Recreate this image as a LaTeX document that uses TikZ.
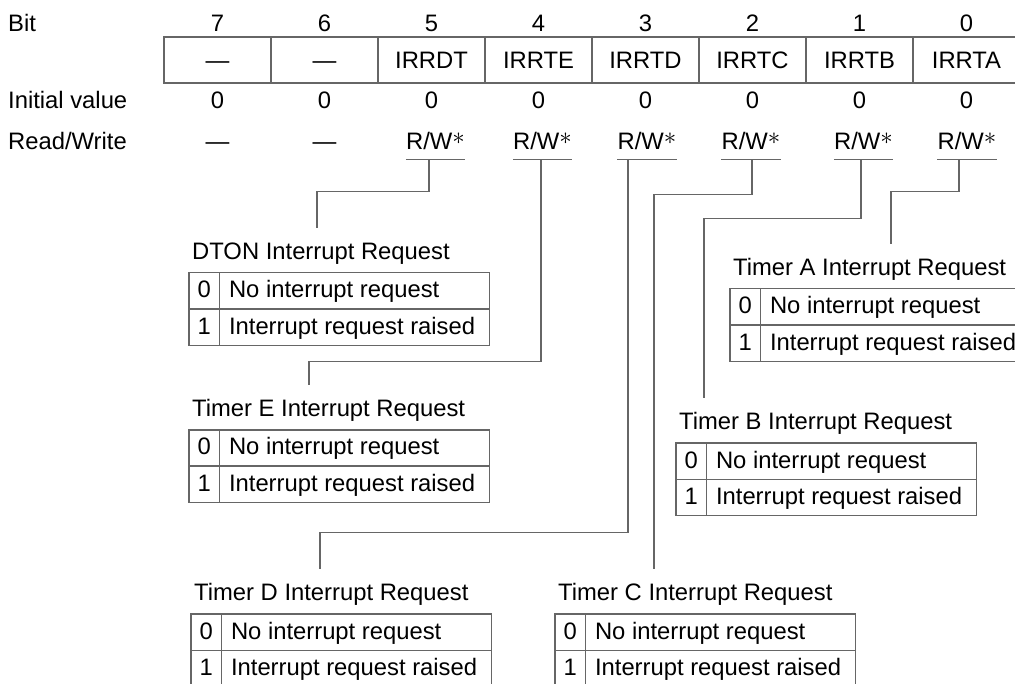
\documentclass[tikz,border=0pt]{standalone}
\usepackage{fontspec}
\setmainfont{Liberation Sans}
\usepackage{colortbl}
\usetikzlibrary{positioning, calc}

\newcommand{\reqtable}{%
  \renewcommand{\arraystretch}{1.25}%
  \setlength{\tabcolsep}{8pt}%
  \setlength{\arrayrulewidth}{1.3pt}%
  \arrayrulecolor{black!60}%
  \begin{tabular}{|c|@{\hspace{9pt}}l@{\hspace{14pt}}|}
    \hline
    0 & No interrupt request \\ \hline
    1 & Interrupt request raised \\ \hline
  \end{tabular}}

\begin{document}
\begin{tikzpicture}[x=1pt, y=-1pt, font=\fontsize{23.8}{28}\selectfont,
  wire/.style={draw=black!60, line width=1.3pt},
  cell/.style={draw=black!60, line width=1.3pt, minimum width=107pt, minimum height=46pt,
    inner sep=0pt, text height=17pt, text depth=0pt},
  lbl/.style={anchor=base west, inner sep=0pt},
  val/.style={anchor=base, inner sep=0pt},
  rw/.style={anchor=base, inner xsep=0pt, inner ysep=9pt, text depth=0pt},
  tab/.style={anchor=north west, inner sep=0pt},
  ttl/.style={anchor=base west, inner xsep=0pt, inner ysep=14pt, text height=17pt, text depth=5pt}]

\useasboundingbox (0, 0) rectangle (1015, 684);

% row labels
\node[lbl] (bit) at (8, 32) {Bit};
\node[lbl] (init) at (8, 109) {Initial value};
\node[lbl] (rdwr) at (8, 150) {Read/Write};

% bit numbers
\node[val] (n7) at (217.5, 32) {7};
\node[val] (n6) at (324.5, 32) {6};
\node[val] (n5) at (431.5, 32) {5};
\node[val] (n4) at (538.5, 32) {4};
\node[val] (n3) at (645.5, 32) {3};
\node[val] (n2) at (752.5, 32) {2};
\node[val] (n1) at (859.5, 32) {1};
\node[val] (n0) at (966.5, 32) {0};

% register cells
\node[cell] (c7) at (217.5, 60) {—};
\node[cell] (c6) at (324.5, 60) {—};
\node[cell] (c5) at (431.5, 60) {IRRDT};
\node[cell] (c4) at (538.5, 60) {IRRTE};
\node[cell] (c3) at (645.5, 60) {IRRTD};
\node[cell] (c2) at (752.5, 60) {IRRTC};
\node[cell] (c1) at (859.5, 60) {IRRTB};
\node[cell] (c0) at (966.5, 60) {IRRTA};

% initial values
\node[val] (i7) at (217.5, 109) {0};
\node[val] (i6) at (324.5, 109) {0};
\node[val] (i5) at (431.5, 109) {0};
\node[val] (i4) at (538.5, 109) {0};
\node[val] (i3) at (645.5, 109) {0};
\node[val] (i2) at (752.5, 109) {0};
\node[val] (i1) at (859.5, 109) {0};
\node[val] (i0) at (966.5, 109) {0};

% read/write
\node[val] (r7) at (217.5, 150) {—};
\node[val] (r6) at (324.5, 150) {—};
\node[rw] (r5) at (435.5, 150) {R/W\raisebox{5pt}{$\ast$}};
\node[rw] (r4) at (542.5, 150) {R/W\raisebox{5pt}{$\ast$}};
\node[rw] (r3) at (647, 150) {R/W\raisebox{5pt}{$\ast$}};
\node[rw] (r2) at (751, 150) {R/W\raisebox{5pt}{$\ast$}};
\node[rw] (r1) at (863.5, 150) {R/W\raisebox{5pt}{$\ast$}};
\node[rw] (r0) at (967, 150) {R/W\raisebox{5pt}{$\ast$}};

\draw[wire] (r5.south west) -- (r5.south east);
\draw[wire] (r4.south west) -- (r4.south east);
\draw[wire] (r3.south west) -- (r3.south east);
\draw[wire] (r2.south west) -- (r2.south east);
\draw[wire] (r1.south west) -- (r1.south east);
\draw[wire] (r0.south west) -- (r0.south east);

% request tables
\node[tab] (tabdt) at (188, 272) {\reqtable};
\node[ttl] (ttldt) at ([xshift=4pt, yshift=12.5pt]tabdt.north west) {DTON Interrupt Request};
\node[tab] (tabte) at (188, 429) {\reqtable};
\node[ttl] (ttlte) at ([xshift=4pt, yshift=12.5pt]tabte.north west) {Timer E Interrupt Request};
\node[tab] (tabtd) at (190, 613) {\reqtable};
\node[ttl] (ttltd) at ([xshift=4pt, yshift=12.5pt]tabtd.north west) {Timer D Interrupt Request};
\node[tab] (tabtc) at (554, 613) {\reqtable};
\node[ttl] (ttltc) at ([xshift=4pt, yshift=12.5pt]tabtc.north west) {Timer C Interrupt Request};
\node[tab] (tabtb) at (675, 442) {\reqtable};
\node[ttl] (ttltb) at ([xshift=4pt, yshift=12.5pt]tabtb.north west) {Timer B Interrupt Request};
\node[tab] (tabta) at (729, 288) {\reqtable};
\node[ttl] (ttlta) at ([xshift=4pt, yshift=12.5pt]tabta.north west) {Timer A Interrupt Request};

% bit to table
\draw[wire] ([xshift=-6.5pt]r5.south) -- ++(0, 32) -| ([xshift=125pt]ttldt.north west);
\draw[wire] ([xshift=-1.5pt]r4.south) -- ++(0, 202) -| ([xshift=117pt]ttlte.north west);
\draw[wire] ([xshift=-19pt]r3.south) -- ++(0, 373) -| ([xshift=126pt]ttltd.north west);
\draw[wire] ([xshift=1pt]r2.south) -- ++(0, 35) -| ([xshift=96pt]ttltc.north west);
\draw[wire] ([xshift=-2.5pt]r1.south) -- ++(0, 59) -| ([xshift=25pt]ttltb.north west);
\draw[wire] ([xshift=-8pt]r0.south) -- ++(0, 32) -| ([xshift=158pt]ttlta.north west);

\end{tikzpicture}
\end{document}
